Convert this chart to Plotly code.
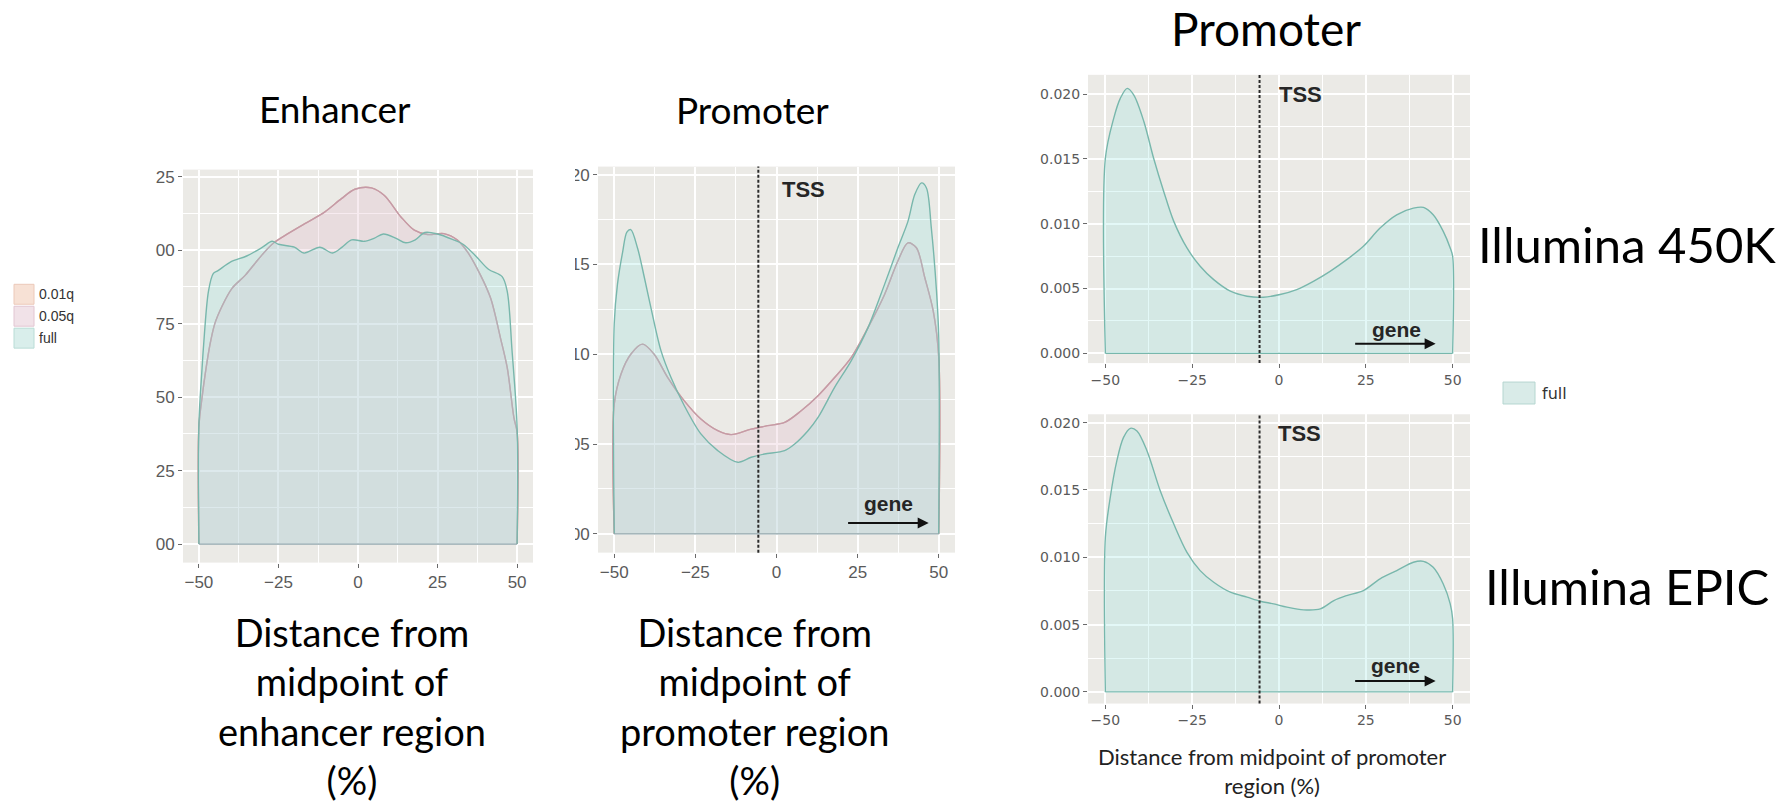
import plotly.graph_objects as go

W, H = 1791, 805

# ---------------- data: density of probe positions ----------------
# Enhancer regions (x: % distance from midpoint, y: density)
enh_full_x = [-50, -49, -48.5, -47, -45.5, -44, -40, -35, -30, -27, -25, -20, -17, -12, -8, -5, -2,
              2, 5, 8, 12, 15, 18, 21, 25, 30, 33, 37, 41, 45.3, 46.9, 48.4, 50]
enh_full = [0.0041, 0.0060, 0.0068, 0.0086, 0.0092, 0.0093, 0.0096, 0.0098, 0.0101, 0.0103, 0.0102,
            0.0101, 0.0099, 0.0101, 0.0099, 0.0101, 0.01035, 0.0103, 0.0104, 0.01055, 0.0104, 0.01025,
            0.01035, 0.0106, 0.01055, 0.01035, 0.0102, 0.0098, 0.00935, 0.0091, 0.0086, 0.0066, 0.0040]

enh_q_x = [-50, -49, -48, -46.5, -45, -42.7, -39.6, -35.4, -31.25, -27, -22.9, -16.7, -10.4, -5.2,
           -1, 4.2, 8.3, 13.5, 17.7, 21.9, 27, 31.25, 34.4, 38.5, 41.7, 44.8, 46.9, 49, 50]
enh_q05 = [0.0040, 0.0050, 0.0058, 0.0068, 0.0075, 0.0081, 0.0087, 0.00915, 0.0097, 0.0102, 0.0105,
           0.0109, 0.0113, 0.01175, 0.01207, 0.01212, 0.01186, 0.01113, 0.01068, 0.01053, 0.01056,
           0.01034, 0.00994, 0.00915, 0.00836, 0.0070, 0.0060, 0.0043, 0.0038]
enh_q01 = [0.0040, 0.0050, 0.0058, 0.0068, 0.0075, 0.0081, 0.0087, 0.00915, 0.0097, 0.0102, 0.0105,
           0.0109, 0.0113, 0.01175, 0.01207, 0.01212, 0.01186, 0.01113, 0.01068, 0.01053, 0.01056,
           0.01034, 0.00994, 0.00915, 0.00836, 0.0070, 0.0060, 0.0043, 0.0038]

# Promoter regions
prom_full_x = [-50, -49, -47.4, -46.1, -44.9, -42.8, -40.7, -38.7, -35.6, -32.5, -28.4, -23.3, -18.1,
               -11.9, -7.8, -3.7, 2.5, 5.6, 9.7, 12.8, 17.9, 23, 28.2, 33.3, 37.4, 40.5, 42.6, 44.7,
               46.2, 47.7, 49.3, 50]
prom_full = [0.0117, 0.0139, 0.0157, 0.0168, 0.01694, 0.0159, 0.01426, 0.0126, 0.0102, 0.0087,
             0.00713, 0.00556, 0.00463, 0.00398, 0.00426, 0.00444, 0.00463, 0.0050, 0.00574, 0.00648,
             0.00815, 0.00963, 0.01148, 0.01389, 0.01593, 0.0174, 0.01889, 0.01954, 0.01926, 0.01704,
             0.01352, 0.01093]

prom_q_x = [-50, -47.9, -44.9, -41.3, -37.7, -33.5, -28.4, -23.3, -18.1, -14, -7.8, -2.7, 2.5, 7.6,
            12.8, 17.9, 23, 28.2, 33.3, 37.4, 40.5, 43.1, 45.7, 48.3, 50]
prom_q05 = [0.00722, 0.0089, 0.0100, 0.01056, 0.0100, 0.0087, 0.0074, 0.00639, 0.00574, 0.00552,
            0.00583, 0.00602, 0.0062, 0.00685, 0.00769, 0.0087, 0.00981, 0.01148, 0.01333, 0.01519,
            0.0162, 0.01593, 0.01426, 0.0124, 0.00981]
prom_q01 = [0.00722, 0.0089, 0.0100, 0.01056, 0.0100, 0.0087, 0.0074, 0.00639, 0.00574, 0.00552,
            0.00583, 0.00602, 0.0062, 0.00685, 0.00769, 0.0087, 0.00981, 0.01148, 0.01333, 0.01519,
            0.0162, 0.01593, 0.01426, 0.0124, 0.00981]

# Illumina 450K promoter probes
k450_x = [-50, -47.6, -45.7, -43.7, -41.8, -38.9, -36.1, -33.2, -30.3, -26.5, -22.7, -18.8, -14,
          -9.2, -4.5, 0.3, 5.1, 9.9, 14.7, 19.5, 24.3, 29.1, 33.9, 38.7, 41.6, 44.4, 47.3, 49.3, 50]
k450 = [0.01505, 0.01813, 0.01967, 0.02044, 0.01992, 0.01787, 0.01505, 0.01249, 0.01018, 0.00813,
        0.00672, 0.00569, 0.0048, 0.00441, 0.00433, 0.00454, 0.00492, 0.00556, 0.00633, 0.00723,
        0.00826, 0.00967, 0.01069, 0.0112, 0.01126, 0.01069, 0.00941, 0.00813, 0.00749]

# Illumina EPIC promoter probes
epic_x = [-50, -48.6, -46.7, -44.8, -42.8, -40.9, -38, -34.2, -30.3, -26.5, -22.7, -18.8, -14, -9.2,
          -5.4, -1.5, 2.3, 7.1, 11.9, 15.8, 19.5, 24.3, 29.1, 33.9, 38.7, 41.6, 44.4, 47.3, 49.3, 50]
epic = [0.01148, 0.01444, 0.01716, 0.01889, 0.01958, 0.01938, 0.0179, 0.01494, 0.01247, 0.01037,
        0.00901, 0.00815, 0.00741, 0.00704, 0.00674, 0.00654, 0.0063, 0.0061, 0.00617, 0.00679,
        0.00716, 0.00753, 0.0084, 0.00901, 0.00963, 0.0097, 0.00926, 0.00802, 0.00654, 0.00543]

tss_x = -5.6
x_ticks = [-50, -25, 0, 25, 50]
enh_yticks = [0, 0.0025, 0.005, 0.0075, 0.01, 0.0125]
enh_yticktext = ["00", "25", "50", "75", "00", "25"]
prom_yticks = [0, 0.005, 0.01, 0.015, 0.02]
prom_yticktext = ["00", "05", "10", "15", "20"]
right_yticktext = ["0.000", "0.005", "0.010", "0.015", "0.020"]
legend_left = ["0.01q", "0.05q", "full"]

# ---------------- styling ----------------
PANEL_BG = "#EBEAE6"
TEAL_LINE = "#78b7ac"
TEAL_FILL = "rgba(144,227,223,0.25)"
PINK_LINE = "#c49aa8"
PINK_FILL = "rgba(220,180,215,0.20)"
PEACH_LINE = "#dcae9a"
PEACH_FILL = "rgba(248,200,180,0.10)"
TITLE_FONT = "Lato"


def pxx(v):
    return v / W


def pxy(v):
    return 1 - v / H


fig = go.Figure()


def density(xs, ys, fill, line, ax):
    fig.add_trace(go.Scatter(
        x=[xs[0]] + xs + [xs[-1]], y=[0] + ys + [0],
        mode="lines", fill="toself", fillcolor=fill,
        line=dict(color=line, width=1.4, shape="spline", smoothing=0.9),
        xaxis="x" + ax, yaxis="y" + ax, showlegend=False, hoverinfo="skip"))


def baseline(xs, line, ax):
    fig.add_trace(go.Scatter(
        x=[xs[0], xs[-1]], y=[0, 0], mode="lines", line=dict(color=line, width=1.2),
        xaxis="x" + ax, yaxis="y" + ax, showlegend=False, hoverinfo="skip"))


# Enhancer panel
density(enh_q_x, enh_q01, PEACH_FILL, PEACH_LINE, "")
density(enh_q_x, enh_q05, PINK_FILL, PINK_LINE, "")
density(enh_full_x, enh_full, TEAL_FILL, TEAL_LINE, "")
baseline(enh_full_x, "#8fa3a8", "")

# Promoter panel
density(prom_q_x, prom_q01, PEACH_FILL, PEACH_LINE, "2")
density(prom_q_x, prom_q05, PINK_FILL, PINK_LINE, "2")
density(prom_full_x, prom_full, TEAL_FILL, TEAL_LINE, "2")
baseline(prom_full_x, "#8fa3a8", "2")

# 450K and EPIC panels
density(k450_x, k450, TEAL_FILL, TEAL_LINE, "3")
baseline(k450_x, TEAL_LINE, "3")
density(epic_x, epic, TEAL_FILL, TEAL_LINE, "4")
baseline(epic_x, TEAL_LINE, "4")


def x_axis(dom, anchor, font):
    return dict(domain=dom, anchor=anchor, range=[-55, 55], tickmode="array", tickvals=x_ticks,
                ticktext=[str(v) if v >= 0 else "\u2212" + str(-v) for v in x_ticks],
                showgrid=True, gridcolor="white", gridwidth=1.6, zeroline=False, showline=False,
                ticks="outside", ticklen=4, tickwidth=1, tickcolor="#6a6a6a",
                tickfont=font, fixedrange=True,
                minor=dict(tick0=0, dtick=12.5, showgrid=True, gridcolor="white", gridwidth=0.8, ticks=""))


def y_axis(dom, anchor, rng, vals, text, minor_step, font):
    return dict(domain=dom, anchor=anchor, range=rng, tickmode="array", tickvals=vals, ticktext=text,
                showgrid=True, gridcolor="white", gridwidth=1.6, zeroline=False, showline=False,
                ticks="outside", ticklen=4, tickwidth=1, tickcolor="#6a6a6a",
                tickfont=font, fixedrange=True,
                minor=dict(tick0=0, dtick=minor_step, showgrid=True, gridcolor="white", gridwidth=0.8, ticks=""))


mid_font = dict(family="Liberation Sans", size=17, color="#5a5a5a")
right_font = dict(family="DejaVu Sans", size=14, color="#5a5a5a")

fig.update_layout(
    width=W, height=H, autosize=False,
    margin=dict(l=0, r=0, t=0, b=0),
    paper_bgcolor="white", plot_bgcolor=PANEL_BG,
    showlegend=False,
    xaxis=x_axis([pxx(183), pxx(533)], "y", mid_font),
    yaxis=y_axis([pxy(562), pxy(168)], "x", [-0.00063, 0.01274], enh_yticks, enh_yticktext, 0.00125, mid_font),
    xaxis2=x_axis([pxx(598), pxx(955)], "y2", mid_font),
    yaxis2=y_axis([pxy(552), pxy(165)], "x2", [-0.00105, 0.02045], prom_yticks, prom_yticktext, 0.0025, mid_font),
    xaxis3=x_axis([pxx(1088), pxx(1470)], "y3", right_font),
    yaxis3=y_axis([pxy(362), pxy(73)], "x3", [-0.00075, 0.021485], prom_yticks, right_yticktext, 0.0025, right_font),
    xaxis4=x_axis([pxx(1088), pxx(1470)], "y4", right_font),
    yaxis4=y_axis([pxy(703.3), pxy(413.3)], "x4", [-0.00086, 0.020622], prom_yticks, right_yticktext, 0.0025, right_font),
)

shapes = []
# TSS markers
for ax in ["2", "3", "4"]:
    shapes.append(dict(type="line", xref="x" + ax, yref="y" + ax + " domain", x0=tss_x, x1=tss_x, y0=0, y1=1,
                       line=dict(color="#2a2a2a", width=2, dash="3px,2px"), layer="above"))

# crop edge over the promoter panel's y labels
shapes.append(dict(type="rect", xref="paper", yref="paper", x0=pxx(540), x1=pxx(575), y0=pxy(560), y1=pxy(150),
                   fillcolor="white", line=dict(width=0), layer="above"))

# left legend keys
key_fill = ["#f7e1d5", "#f1e2e8", "#d9eeeb"]
key_line = ["#ecc9b9", "#e2c6d2", "#b9dcd6"]
key_top = [283, 305, 327]
for kf, kl, kt in zip(key_fill, key_line, key_top):
    shapes.append(dict(type="rect", xref="paper", yref="paper", x0=pxx(14), x1=pxx(34), y0=pxy(kt + 20), y1=pxy(kt),
                       fillcolor=kf, line=dict(color=kl, width=1)))
# right legend key
shapes.append(dict(type="rect", xref="paper", yref="paper", x0=pxx(1503), x1=pxx(1535), y0=pxy(403), y1=pxy(381),
                   fillcolor="#d9ebe8", line=dict(color="#b5d6d0", width=1)))
fig.update_layout(shapes=shapes)

ann = []


def ptext(text, x, y, size, family=TITLE_FONT, color="#000", xanchor="center"):
    ann.append(dict(text=text, x=pxx(x), y=pxy(y), xref="paper", yref="paper", showarrow=False,
                    xanchor=xanchor, yanchor="middle", align="center",
                    font=dict(family=family, size=size, color=color)))


ptext("Enhancer", 335, 107, 37)
ptext("Promoter", 752, 108, 37)
ptext("Promoter", 1266, 27, 46)
ptext("Illumina 450K", 1627, 243, 49)
ptext("Illumina EPIC", 1627, 585, 49)
ptext("Distance from<br>midpoint of<br>enhancer region<br>(%)", 352, 706, 38)
ptext("Distance from<br>midpoint of<br>promoter region<br>(%)", 754, 706, 38)
ptext("Distance from midpoint of promoter<br>region (%)", 1272, 771, 22, color="#222")

for lbl, kt in zip(legend_left, key_top):
    ptext(lbl, 37, kt + 10, 14, family="Liberation Sans", color="#333", xanchor="left")
ptext("full", 1540, 392, 16, family="DejaVu Sans", color="#333", xanchor="left")


def data_text(text, ax, x, y, size):
    ann.append(dict(text="<b>" + text + "</b>", x=x, y=y, xref="x" + ax, yref="y" + ax, showarrow=False,
                    xanchor="center", yanchor="middle",
                    font=dict(family="Liberation Sans", size=size, color="#262626")))


def gene_arrow(ax, x0, x1, y):
    ann.append(dict(text="", x=x1, y=y, ax=x0, ay=y, xref="x" + ax, yref="y" + ax,
                    axref="x" + ax, ayref="y" + ax, showarrow=True, arrowhead=2, arrowsize=1.1,
                    arrowwidth=2, arrowcolor="#111", standoff=0))


data_text("TSS", "2", 8.3, 0.0192, 22)
data_text("gene", "2", 34.4, 0.00167, 21)
gene_arrow("2", 21.6, 46.9, 0.0006)

data_text("TSS", "3", 6.3, 0.0200, 22)
data_text("gene", "3", 33.9, 0.00187, 21)
gene_arrow("3", 21.5, 45.1, 0.00074)

data_text("TSS", "4", 5.8, 0.0192, 22)
data_text("gene", "4", 33.6, 0.00198, 21)
gene_arrow("4", 21.5, 45.1, 0.00081)

fig.update_layout(annotations=ann)

fig.write_html("out.html", config={"displayModeBar": False})
